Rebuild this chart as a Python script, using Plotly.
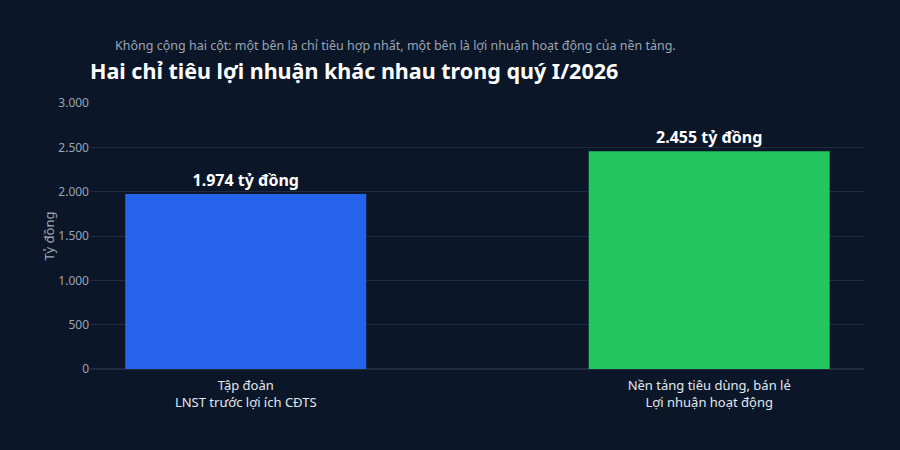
import plotly.graph_objects as go

categories = ["Tập đoàn<br>LNST trước lợi ích CĐTS", "Nền tảng tiêu dùng, bán lẻ<br>Lợi nhuận hoạt động"]
values = [1974, 2455]
labels = ["1.974 tỷ đồng", "2.455 tỷ đồng"]
colors = ["#2563eb", "#22c55e"]
y_ticks = [0, 500, 1000, 1500, 2000, 2500, 3000]
y_tick_text = ["0", "500", "1.000", "1.500", "2.000", "2.500", "3.000"]

bg = "#0b1628"
fig = go.Figure(go.Bar(
    x=[0, 1], y=values, width=0.52,
    marker=dict(color=colors, line=dict(width=0)),
    text=labels, textposition="outside", cliponaxis=False,
    textfont=dict(size=16, color="#ffffff", family="Noto Sans", weight="bold"),
))
fig.update_layout(
    width=900, height=450,
    paper_bgcolor=bg, plot_bgcolor=bg,
    margin=dict(l=90, r=36, t=103, b=81),
    font=dict(family="Noto Sans", color="#9aa5b5", size=12),
    showlegend=False,
    annotations=[
        dict(text="Không cộng hai cột: một bên là chỉ tiêu hợp nhất, một bên là lợi nhuận hoạt động của nền tảng.",
             xref="paper", yref="paper", x=0.0298, y=1.218, xanchor="left", yanchor="middle",
             showarrow=False, font=dict(size=12.5, color="#9aa5b5")),
        dict(text="<b>Hai chỉ tiêu lợi nhuận khác nhau trong quý I/2026</b>",
             xref="paper", yref="paper", x=-0.003, y=1.124, xanchor="left", yanchor="middle",
             showarrow=False, font=dict(size=21.5, color="#ffffff")),
    ],
)
fig.update_xaxes(
    range=[-0.336, 1.334], tickvals=[0, 1], ticktext=categories,
    showgrid=False, zeroline=False, showline=False,
    ticks="outside", ticklen=4, tickcolor=bg,
    tickfont=dict(size=13, color="#e2e8f0"),
)
fig.update_yaxes(
    range=[0, 3000], tickvals=y_ticks, ticktext=y_tick_text,
    gridcolor="#1f2b3e", gridwidth=1, zeroline=True, zerolinecolor="#1f2b3e",
    showline=False, ticks="", ticklen=0,
    tickfont=dict(size=12, color="#9aa5b5"),
    title=dict(text="Tỷ đồng", font=dict(size=13, color="#9aa5b5"), standoff=0),
)
fig.write_html("out.html")
